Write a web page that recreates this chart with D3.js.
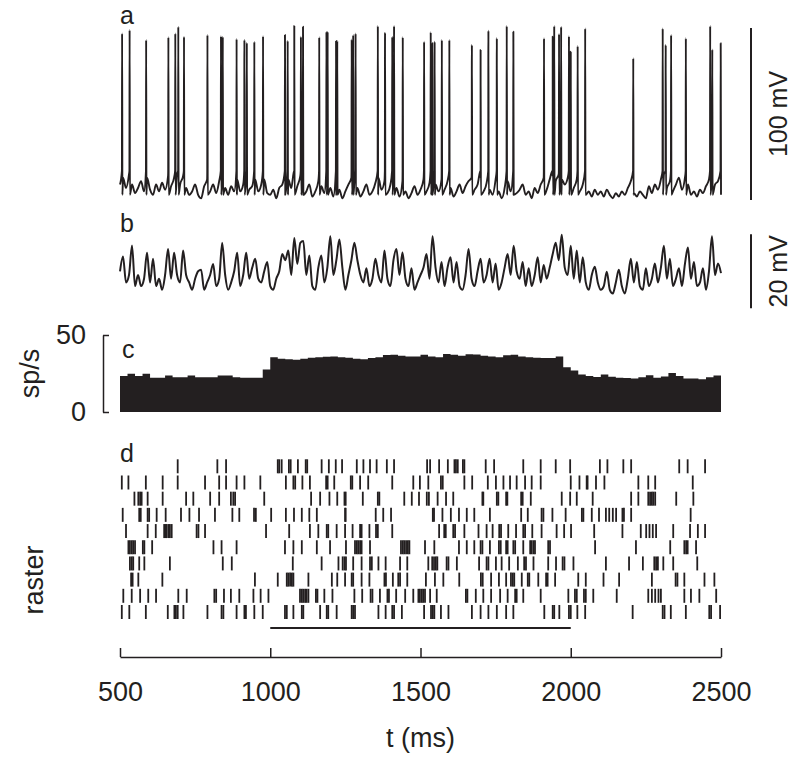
<!DOCTYPE html>
<html><head><meta charset="utf-8">
<script src="https://cdn.jsdelivr.net/npm/d3@7"></script>
<style>
body{margin:0;background:#fff}
svg text{font-family:"Liberation Sans",Arial,Helvetica,sans-serif;fill:#231f20}
</style>
</head><body><svg id="chart" width="800" height="760"></svg>
<script>
// ---------------- DATA ----------------
const tickValues = [500, 1000, 1500, 2000, 2500];
const sampleStart = 500, sampleStep = 10;           // ms
// panel a: membrane potential between spikes (mV)
const traceA = [-66,-62,-68,-60,-66,-71,-68,-64,-70,-62,
-69,-72,-66,-70,-65,-69,-61,-67,-62,-60,
-66,-61,-68,-72,-70,-66,-72,-74,-67,-63,
-70,-66,-71,-64,-62,-68,-72,-67,-70,-63,
-70,-66,-62,-69,-67,-63,-70,-66,-63,-71,
-72,-69,-74,-68,-66,-61,-63,-68,-62,-67,
-61,-63,-70,-66,-73,-70,-64,-67,-71,-62,
-68,-73,-63,-69,-74,-70,-66,-62,-64,-68,
-73,-70,-66,-72,-70,-65,-62,-69,-64,-71,
-66,-62,-68,-73,-64,-70,-74,-71,-67,-72,
-69,-63,-70,-65,-61,-66,-70,-63,-69,-64,
-68,-73,-70,-66,-71,-67,-64,-62,-69,-66,
-62,-70,-65,-69,-72,-63,-70,-74,-68,-64,
-70,-63,-71,-69,-66,-72,-70,-74,-68,-71,
-66,-62,-69,-63,-61,-64,-60,-63,-66,-62,
-64,-68,-63,-70,-66,-72,-70,-73,-69,-72,
-70,-73,-69,-72,-74,-71,-73,-70,-72,-68,
-64,-71,-73,-70,-72,-74,-67,-71,-66,-69,
-63,-60,-68,-64,-70,-66,-62,-69,-62,-66,
-72,-70,-73,-69,-71,-67,-63,-60,-66,-64,
-67];
const spikeTimes = [507,532,587,661,684,694,713,791,836,842,888,914,922,947,976,
1049,1058,1080,1102,1109,1163,1187,1191,1219,1223,1271,1276,1284,1358,1382,1406,1412,1441,
1512,1534,1539,1547,1571,1596,1671,1700,1726,1754,1787,1809,1911,1940,1945,1961,1968,1994,
2000,2023,2048,2208,2306,2316,2334,2383,2464,2471,2499];
const spikePeaks = [21.9,23.8,18,19.6,21.9,25.8,20,20.9,20.3,20,18.6,18,16.5,17,20.3,
20.9,17.6,26.2,20,25.8,19.6,22.8,22.8,17.4,17.4,18.4,20.9,21.9,26.2,22.3,20,26.2,19.6,
17,22.5,16.1,17,18,18,15.1,12.2,23.4,19,26.2,22.8,19,20,26.2,21.5,25.8,20.3,
11.2,14.5,24.8,7.4,24.8,15.1,20.9,19,26.2,12.6,16.1];
const spikeThreshold = -58, spikeReset = -72;
// panel b: subthreshold membrane potential (mV)
const traceB = [-65,-61,-68,-66,-58,-69,-66,-69,-67,-60,
-68,-61.6,-69,-67,-70,-66,-59,-67,-60,-66,
-68,-59.4,-66,-68,-70,-67,-65,-64.6,-70,-68,
-66,-63,-69,-67,-57.3,-66,-70,-68,-65,-60,
-69,-66,-60,-67,-64,-61.6,-67,-68,-65,-62.5,
-69,-70,-67,-65,-60.3,-62,-59.4,-66,-56,-63,
-57.3,-56.8,-66,-60.7,-69,-70,-64,-60.7,-68,-64,
-55.5,-66,-62,-56.4,-64,-70,-66,-62,-57.3,-62,
-66,-68,-64.2,-69,-67,-61.6,-66,-68,-59.4,-67,
-69,-62,-59,-66,-59.9,-67,-69,-64.2,-70,-68,
-66,-64,-60.3,-67,-55.5,-64,-68,-62.5,-69,-64,
-61.2,-68,-62.5,-69,-70,-66,-59,-67,-69,-65,
-61.6,-68,-66,-61.6,-68,-62.9,-70,-68,-64,-60.3,
-66,-58.1,-65,-67,-62.5,-69,-64.2,-69,-66,-61.2,
-68,-63.3,-67,-64,-60.3,-57.3,-62,-55.1,-64,-66,
-58.1,-67,-59.4,-68,-61.2,-68,-70,-66,-63.8,-68,
-70,-69,-65.1,-70,-71,-68,-64.6,-69,-71,-67,
-61.6,-68,-62.5,-69,-70,-64.2,-69,-67,-62.9,-68,
-64,-58.1,-67,-61.6,-69,-67,-64.2,-69,-63,-58.6,
-67,-62.5,-69,-68,-64.2,-70,-65,-55.5,-66,-62.9,
-65.5];
// panel c: firing rate (sp/s), 25 ms bins from 500 ms
const binStart = 500, binWidth = 25;
const rate = [23.3,24.8,23.3,24.8,22.2,22.2,23.7,22.6,22.6,23.7,22.6,22.6,22.6,23.7,23.7,22.6,22.2,22.2,22.2,27.6,
35.5,34.6,34.3,34,34.6,35.3,35.5,35.8,36.1,35.5,35.2,34.6,34.2,35,35.5,37,37.2,36.5,36.1,36,
37.2,36,35.5,37.6,37.2,36.5,37.5,37.4,36.5,36.1,35.5,36.8,37.2,36,35.5,35.2,35,35,36.1,29.1,
26.9,24.4,23.3,22.8,24.4,22.9,22.2,22,21.8,22.6,23.9,22.2,23,25.4,23.3,21.8,21.8,21.2,22.6,23.7];
const rateTicks = [0, 50];
// panel d: spike raster (ms), one list per trial
const raster = [
[692,824,853,1025,1030,1038,1062,1068,1092,1118,1123,1171,1195,1218,1239,1288,1310,1332,1354,1388,1412,1522,1532,1562,1591,1613,1618,1624,1641,1646,1717,1745,1842,1900,1950,1998,2097,2122,2175,2201,2361,2389,2447],
[506,528,586,642,692,783,830,853,888,914,967,1052,1077,1083,1107,1132,1186,1191,1213,1268,1273,1299,1326,1406,1476,1498,1526,1568,1574,1646,1672,1724,1751,1776,1798,1820,1848,1870,1900,2000,2029,2053,2056,2084,2112,2225,2258,2281,2406],
[548,561,567,572,592,642,720,744,800,830,869,877,883,980,1136,1166,1197,1223,1247,1251,1308,1358,1363,1446,1471,1495,1521,1528,1557,1585,1609,1706,1709,1754,1759,1785,1789,1835,1840,1867,1970,1998,2020,2073,2201,2225,2258,2264,2270,2275,2281,2351,2408],
[509,564,569,592,597,622,652,703,731,763,816,874,897,946,952,1003,1052,1079,1105,1130,1155,1249,1251,1351,1376,1402,1541,1545,1573,1601,1628,1654,1679,1731,1835,1857,1903,1909,1939,1983,2037,2042,2070,2094,2117,2128,2140,2151,2172,2177,2201,2399],
[520,592,619,647,652,655,661,666,672,755,761,783,986,1063,1132,1160,1188,1193,1221,1249,1274,1299,1304,1330,1352,1358,1406,1562,1579,1584,1609,1615,1646,1693,1720,1740,1762,1768,1792,1818,1842,1848,1872,1903,1953,1978,2001,2078,2172,2233,2251,2262,2273,2284,2341,2397,2423,2447],
[528,533,539,544,550,576,581,607,811,838,888,1049,1077,1105,1155,1199,1252,1282,1288,1293,1299,1304,1332,1435,1441,1446,1452,1458,1463,1515,1546,1628,1654,1679,1700,1706,1731,1761,1767,1785,1790,1809,1815,1842,1865,1870,1876,1881,1925,1931,2081,2217,2331,2378,2384,2389,2417],
[533,539,544,564,581,666,842,872,1075,1171,1227,1241,1247,1252,1276,1304,1332,1338,1360,1384,1432,1456,1526,1539,1545,1551,1556,1587,1593,1621,1695,1720,1726,1751,1770,1795,1824,1845,1851,1876,1925,1951,1973,1979,2009,2117,2194,2240,2278,2284,2290,2308,2341,2421],
[537,542,561,641,949,1025,1055,1060,1066,1072,1077,1127,1205,1223,1249,1271,1276,1304,1330,1380,1385,1408,1426,1432,1456,1518,1548,1576,1629,1701,1707,1735,1761,1785,1801,1807,1812,1837,1857,1862,1892,1918,1923,1948,2025,2050,2109,2161,2270,2349,2355,2378,2445,2478],
[511,539,567,594,620,694,722,814,820,846,869,897,944,968,994,1099,1105,1110,1116,1121,1127,1152,1157,1180,1207,1280,1306,1334,1340,1365,1390,1395,1419,1449,1476,1493,1498,1504,1509,1515,1532,1554,1651,1656,1684,1709,1735,1765,1790,1815,1820,1842,1900,1992,2014,2020,2044,2050,2075,2153,2258,2270,2281,2292,2300,2378,2400,2428,2484],
[506,531,586,659,681,686,692,711,791,838,844,888,914,919,947,975,1049,1055,1077,1105,1110,1166,1188,1193,1221,1271,1276,1282,1360,1384,1406,1412,1438,1512,1535,1541,1546,1568,1593,1671,1700,1726,1754,1785,1809,1912,1940,1945,1962,1994,2000,2022,2048,2206,2306,2312,2333,2383,2461,2467,2497]
];
const stimulus = [1000, 2000];
const scaleBarA = [-75, 25], scaleBarB = [-75, -55];

// ---------------- DRAWING ----------------
const ink = "#231f20";
const FONT = 27;
const svg = d3.select("#chart");
const x = d3.scaleLinear().domain([500, 2500]).range([120, 721]);
const yA = d3.scaleLinear().domain([-75, 25]).range([200, 28]);
const yB = d3.scaleLinear().domain([-75, -55]).range([308.3, 234.3]);
const yC = d3.scaleLinear().domain([0, 50]).range([412, 335]);
const rowY = d3.scaleLinear().domain([0, raster.length - 1]).range([466.3, 612]);

// panel a trace with spikes
const ptsA = traceA.map((v, i) => [sampleStart + i * sampleStep, v]);
spikeTimes.forEach((t, i) => {
  ptsA.push([t - 0.6, spikeThreshold], [t, spikePeaks[i]], [t + 1, spikeReset]);
});
ptsA.sort((a, b) => a[0] - b[0]);
const lineA = d3.line().curve(d3.curveMonotoneX).x(d => x(d[0])).y(d => yA(d[1]));
svg.append("path").attr("d", lineA(ptsA)).attr("fill", "none")
  .attr("stroke", ink).attr("stroke-width", 1.9).attr("stroke-linejoin", "round");

// panel b trace
const lineB = d3.line().curve(d3.curveMonotoneX)
  .x((d, i) => x(sampleStart + i * sampleStep)).y(d => yB(d));
svg.append("path").attr("d", lineB(traceB)).attr("fill", "none")
  .attr("stroke", ink).attr("stroke-width", 2).attr("stroke-linejoin", "round");

// scale bars
function vLabel(cx, cy, txt, fs) {
  svg.append("text").attr("transform", `translate(${cx},${cy}) rotate(-90)`)
    .attr("text-anchor", "middle").attr("dominant-baseline", "central")
    .attr("font-size", fs || FONT).text(txt);
}
svg.append("line").attr("x1", 751).attr("x2", 751)
  .attr("y1", yA(scaleBarA[0])).attr("y2", yA(scaleBarA[1]))
  .attr("stroke", ink).attr("stroke-width", 2);
vLabel(778, (yA(scaleBarA[0]) + yA(scaleBarA[1])) / 2, "100 mV", 25);
svg.append("line").attr("x1", 751).attr("x2", 751)
  .attr("y1", yB(scaleBarB[0])).attr("y2", yB(scaleBarB[1]))
  .attr("stroke", ink).attr("stroke-width", 2);
vLabel(778, (yB(scaleBarB[0]) + yB(scaleBarB[1])) / 2, "20 mV", 25);

// panel c histogram
const histPts = rate.map((v, i) => [binStart + i * binWidth, v]);
histPts.push([binStart + rate.length * binWidth, rate[rate.length - 1]]);
const area = d3.area().curve(d3.curveStepAfter)
  .x(d => x(d[0])).y0(yC(0)).y1(d => yC(d[1]));
svg.append("path").attr("d", area(histPts)).attr("fill", ink);

const axC = svg.append("g").attr("transform", "translate(103,0)")
  .call(d3.axisLeft(yC).tickValues(rateTicks).tickFormat(d3.format("d"))
    .tickSizeInner(-6).tickSizeOuter(0).tickPadding(17));
axC.select(".domain").attr("stroke", ink).attr("stroke-width", 1.5);
axC.selectAll(".tick line").attr("stroke", ink).attr("stroke-width", 1.5);
axC.selectAll(".tick text").attr("font-size", FONT).attr("fill", ink)
  .attr("font-family", "Liberation Sans, Arial, sans-serif");
vLabel(30, (yC(0) + yC(50)) / 2, "sp/s");

// panel d raster
raster.forEach((trial, r) => {
  svg.append("g").selectAll("line").data(trial).join("line")
    .attr("x1", d => x(d)).attr("x2", d => x(d))
    .attr("y1", rowY(r) - 7).attr("y2", rowY(r) + 7)
    .attr("stroke", ink).attr("stroke-width", 1.8);
});
svg.append("line").attr("x1", x(stimulus[0])).attr("x2", x(stimulus[1]))
  .attr("y1", 628).attr("y2", 628).attr("stroke", ink).attr("stroke-width", 2);
vLabel(34, 580, "raster");

// bottom axis
const axX = svg.append("g").attr("transform", "translate(0,657)")
  .call(d3.axisBottom(x).tickValues(tickValues).tickFormat(d3.format("d"))
    .tickSizeInner(-9).tickSizeOuter(0).tickPadding(25));
axX.select(".domain").attr("stroke", ink).attr("stroke-width", 1.5);
axX.selectAll(".tick line").attr("stroke", ink).attr("stroke-width", 1.5);
axX.selectAll(".tick text").attr("font-size", FONT).attr("fill", ink)
  .attr("font-family", "Liberation Sans, Arial, sans-serif");
svg.append("text").attr("x", x(1500)).attr("y", 747).attr("text-anchor", "middle")
  .attr("font-size", FONT).text("t (ms)");

// panel letters
[["a", 24], ["b", 232], ["c", 358], ["d", 462]].forEach(([l, yy]) => {
  svg.append("text").attr("x", l === "c" ? 122 : 120).attr("y", yy).attr("font-size", 25).text(l);
});
</script>
</body></html>
